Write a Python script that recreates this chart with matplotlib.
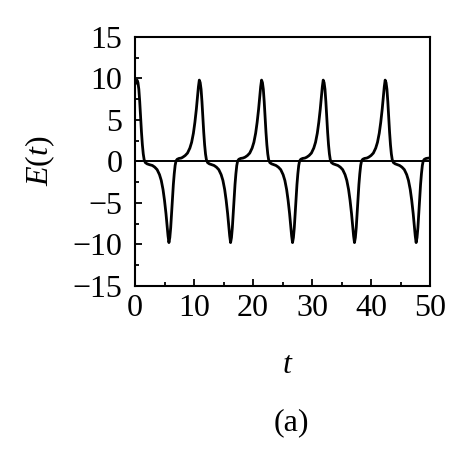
import matplotlib
matplotlib.use("Agg")
import matplotlib.pyplot as plt
from matplotlib.ticker import MultipleLocator

plt.rcParams['font.family'] = ['Liberation Serif', 'DejaVu Serif']
plt.rcParams['mathtext.fontset'] = 'custom'
plt.rcParams['mathtext.rm'] = 'Liberation Serif'
plt.rcParams['mathtext.it'] = 'Liberation Serif:italic'

# values
t = [0.0, 0.35, 0.5, 0.65, 0.8, 0.95, 1.1, 1.25, 1.4, 1.55, 1.75, 2.05, 2.45,
     2.95, 3.35, 3.75, 4.15, 4.45, 4.75, 5.0, 5.25, 5.45, 5.6, 5.75, 5.9, 6.05, 6.2, 6.35, 6.5, 6.65, 6.8, 6.95, 7.15, 7.45, 7.85,
     8.1, 8.5, 8.9, 9.3, 9.6, 9.9, 10.15, 10.4, 10.6, 10.75, 10.9, 11.05, 11.2, 11.35, 11.5, 11.65, 11.8, 11.95, 12.1, 12.3, 12.6, 13.0,
     13.4, 13.8, 14.2, 14.6, 14.9, 15.2, 15.45, 15.7, 15.9, 16.05, 16.2, 16.35, 16.5, 16.65, 16.8, 16.95, 17.1, 17.25, 17.4, 17.6, 17.9, 18.3,
     18.65, 19.05, 19.45, 19.85, 20.15, 20.45, 20.7, 20.95, 21.15, 21.3, 21.45, 21.6, 21.75, 21.9, 22.05, 22.2, 22.35, 22.5, 22.65, 22.85, 23.15, 23.55,
     23.9, 24.3, 24.7, 25.1, 25.4, 25.7, 25.95, 26.2, 26.4, 26.55, 26.7, 26.85, 27.0, 27.15, 27.3, 27.45, 27.6, 27.75, 27.9, 28.1, 28.4, 28.8,
     29.1, 29.5, 29.9, 30.3, 30.6, 30.9, 31.15, 31.4, 31.6, 31.75, 31.9, 32.05, 32.2, 32.35, 32.5, 32.65, 32.8, 32.95, 33.1, 33.3, 33.6, 34.0,
     34.4, 34.8, 35.2, 35.6, 35.9, 36.2, 36.45, 36.7, 36.9, 37.05, 37.2, 37.35, 37.5, 37.65, 37.8, 37.95, 38.1, 38.25, 38.4, 38.6, 38.9, 39.3,
     39.6, 40.0, 40.4, 40.8, 41.1, 41.4, 41.65, 41.9, 42.1, 42.25, 42.4, 42.55, 42.7, 42.85, 43.0, 43.15, 43.3, 43.45, 43.6, 43.8, 44.1, 44.5,
     44.85, 45.25, 45.65, 46.05, 46.35, 46.65, 46.9, 47.15, 47.35, 47.5, 47.65, 47.8, 47.95, 48.1, 48.25, 48.4, 48.55, 48.7, 48.85, 49.05, 49.35, 49.75, 50.0]

E = [9.3, 9.8, 9.5, 8.7, 7.2, 5.3, 3.5, 2.0, 0.9, 0.2, -0.15, -0.3, -0.4,
     -0.5, -0.7, -1.0, -1.6, -2.3, -3.4, -4.7, -6.3, -7.9, -9.0, -9.8, -9.2, -8.0, -6.2, -4.4, -2.8, -1.5, -0.5, 0.05, 0.25, 0.35, 0.4,
     0.5, 0.7, 1.0, 1.6, 2.3, 3.4, 4.7, 6.3, 7.9, 9.0, 9.8, 9.5, 8.7, 7.2, 5.3, 3.5, 2.0, 0.9, 0.2, -0.15, -0.3, -0.4,
     -0.5, -0.7, -1.0, -1.6, -2.3, -3.4, -4.7, -6.3, -7.9, -9.0, -9.8, -9.2, -8.0, -6.2, -4.4, -2.8, -1.5, -0.5, 0.05, 0.25, 0.35, 0.4,
     0.5, 0.7, 1.0, 1.6, 2.3, 3.4, 4.7, 6.3, 7.9, 9.0, 9.8, 9.5, 8.7, 7.2, 5.3, 3.5, 2.0, 0.9, 0.2, -0.15, -0.3, -0.4,
     -0.5, -0.7, -1.0, -1.6, -2.3, -3.4, -4.7, -6.3, -7.9, -9.0, -9.8, -9.2, -8.0, -6.2, -4.4, -2.8, -1.5, -0.5, 0.05, 0.25, 0.35, 0.4,
     0.5, 0.7, 1.0, 1.6, 2.3, 3.4, 4.7, 6.3, 7.9, 9.0, 9.8, 9.5, 8.7, 7.2, 5.3, 3.5, 2.0, 0.9, 0.2, -0.15, -0.3, -0.4,
     -0.5, -0.7, -1.0, -1.6, -2.3, -3.4, -4.7, -6.3, -7.9, -9.0, -9.8, -9.2, -8.0, -6.2, -4.4, -2.8, -1.5, -0.5, 0.05, 0.25, 0.35, 0.4,
     0.5, 0.7, 1.0, 1.6, 2.3, 3.4, 4.7, 6.3, 7.9, 9.0, 9.8, 9.5, 8.7, 7.2, 5.3, 3.5, 2.0, 0.9, 0.2, -0.15, -0.3, -0.4,
     -0.5, -0.7, -1.0, -1.6, -2.3, -3.4, -4.7, -6.3, -7.9, -9.0, -9.8, -9.2, -8.0, -6.2, -4.4, -2.8, -1.5, -0.5, 0.05, 0.25, 0.35, 0.4, 0.42]

x_ticks = [0, 10, 20, 30, 40, 50]
y_ticks = [-15, -10, -5, 0, 5, 10, 15]

fig = plt.figure(figsize=(4.69, 4.61), dpi=100)
ax = fig.add_axes([135/469, 1 - 285.7/461, (430 - 135)/469, (285.7 - 37)/461])

ax.axhline(0, color='black', lw=1.4)
ax.plot(t, E, color='black', lw=2.0, solid_joinstyle='round')

ax.set_xlim(0, 50)
ax.set_ylim(-15, 15)
ax.set_xticks(x_ticks)
ax.set_yticks(y_ticks)
ax.xaxis.set_minor_locator(MultipleLocator(5))
ax.yaxis.set_minor_locator(MultipleLocator(2.5))
ax.set_xticklabels([str(v) for v in x_ticks])
ax.set_yticklabels([str(v).replace('-', '\u2212') for v in y_ticks])
ax.tick_params(which='major', direction='in', length=5, width=1.3, labelsize=23)
ax.tick_params(axis='x', which='major', pad=6)
ax.tick_params(axis='y', which='major', pad=9)
ax.tick_params(which='minor', direction='in', length=3, width=1.3)
for s in ax.spines.values():
    s.set_linewidth(1.5)

fig.text(40/469, 1 - 161/461, '$E(t)$', rotation=90, fontsize=23, ha='center', va='center')
fig.text(288/469, 1 - 365/461, '$t$', fontsize=23, ha='center', va='center')
fig.text(291/469, 1 - 423/461, '(a)', fontsize=23, ha='center', va='center')

fig.savefig('out.png', dpi=100)
